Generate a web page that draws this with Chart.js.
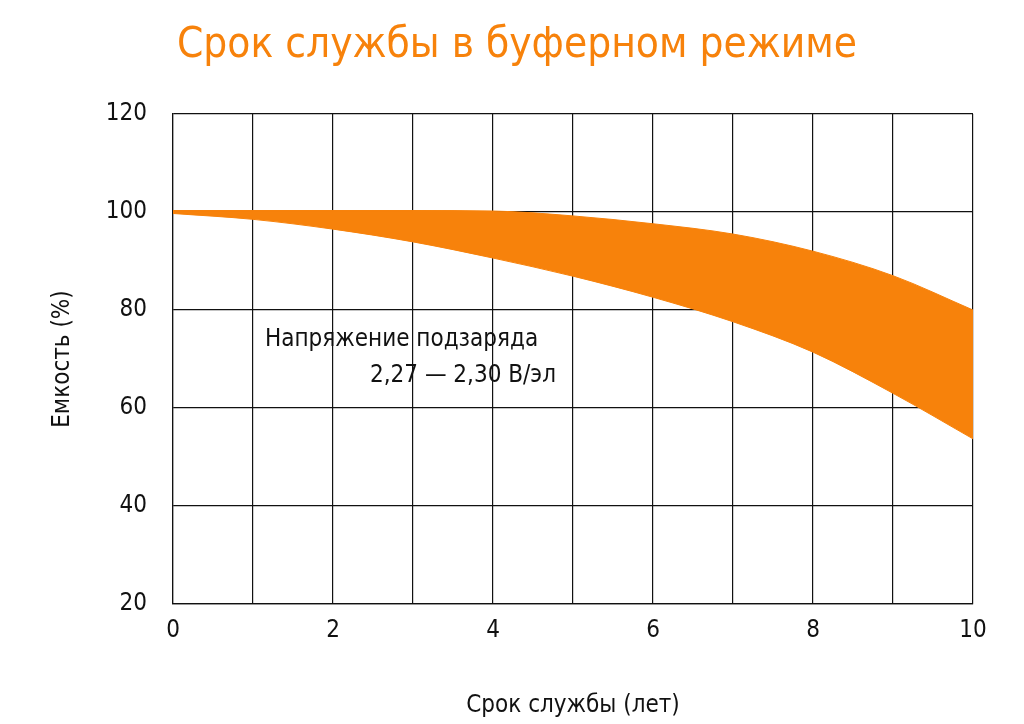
<!DOCTYPE html>
<html><head><meta charset="utf-8">
<script src="https://cdn.jsdelivr.net/npm/chart.js@4"></script>
<style>html,body{margin:0;background:#fff}#c{display:block}</style>
</head><body>
<canvas id="c" width="1024" height="724"></canvas>
<script>
// Срок службы в буферном режиме
const YEARS = [0, 1, 2, 3, 4, 5, 6, 7, 8, 9, 10];
const UPPER = [100.3, 100.3, 100.3, 100.3, 100.2, 99.2, 97.6, 95.5, 92, 87, 80];
const LOWER = [99.7, 98.5, 96.5, 93.9, 90.6, 86.9, 82.6, 77.6, 71.4, 63, 53.7];
const ORANGE = '#f7820b';
const FONT = 'DejaVu Sans Condensed, Roboto, sans-serif';

const overlay = {
  id: 'overlay',
  afterDraw(chart) {
    const c = chart.ctx;
    c.save();
    c.fillStyle = ORANGE;
    c.font = '42px ' + FONT;
    c.textAlign = 'center';
    c.textBaseline = 'middle';
    c.fillText('Срок службы в буферном режиме', 517, 46);
    c.fillStyle = '#111';
    c.font = '24px ' + FONT;
    c.textAlign = 'left';
    c.fillText('Напряжение подзаряда', 265, 340);
    c.fillText('2,27 — 2,30 В/эл', 370, 376);
    c.restore();
  }
};

new Chart(document.getElementById('c'), {
  type: 'line',
  data: {
    datasets: [{
      data: YEARS.map(function(x, i) { return { x: x, y: UPPER[i] }; }),
      borderColor: ORANGE, borderWidth: 1, pointRadius: 0,
      cubicInterpolationMode: 'monotone', fill: false
    }, {
      data: YEARS.map(function(x, i) { return { x: x, y: LOWER[i] }; }),
      borderColor: ORANGE, borderWidth: 1, pointRadius: 0,
      backgroundColor: ORANGE, cubicInterpolationMode: 'monotone', fill: '-1'
    }]
  },
  options: {
    responsive: false, animation: false,
    layout: { padding: { top: 114, right: 51, left: 0, bottom: 0 } },
    plugins: { legend: { display: false }, tooltip: { enabled: false } },
    scales: {
      x: {
        type: 'linear', min: 0, max: 10,
        afterFit: function(s) { s.height = 120; },
        grid: { color: '#111', lineWidth: 1.2, drawTicks: false },
        border: { color: '#111', width: 1.2 },
        ticks: { stepSize: 1, padding: 12, color: '#111', font: { size: 24, family: FONT },
          callback: function(v) { return v % 2 === 0 ? v : ''; } },
        title: { display: true, text: 'Срок службы (лет)', color: '#111',
          font: { size: 24, family: FONT }, padding: { top: 6 } }
      },
      y: {
        min: 20, max: 120,
        afterFit: function(s) { s.width = 173; },
        grid: { color: '#111', lineWidth: 1.2, drawTicks: false },
        border: { color: '#111', width: 1.2 },
        ticks: { stepSize: 20, padding: 26, color: '#111', font: { size: 24, family: FONT } },
        title: { display: true, text: 'Емкость (%)', color: '#111',
          font: { size: 24, family: FONT }, padding: { top: 48, bottom: 0 } }
      }
    }
  },
  plugins: [overlay]
});
</script>
</body></html>
